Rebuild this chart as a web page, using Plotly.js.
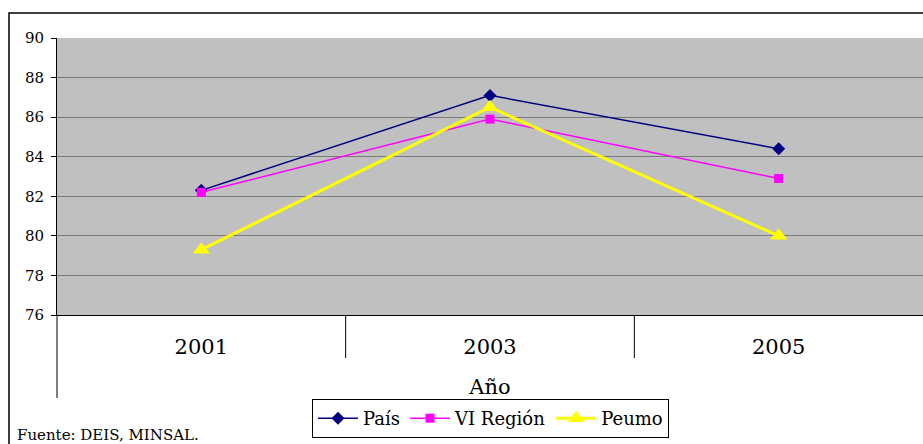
<!DOCTYPE html>
<html>
<head>
<meta charset="utf-8">
<script src="https://cdn.plot.ly/plotly-3.0.1.min.js"></script>
<style>html,body{margin:0;padding:0;background:#fff;}#chart{width:923px;height:444px;}</style>
</head>
<body>
<div id="chart"></div>
<script>
const years = ['2001', '2003', '2005'];
const pais = [82.3, 87.1, 84.4];
const viRegion = [82.2, 85.9, 82.9];
const peumo = [79.3, 86.5, 80.0];
const seriesNames = ['País', 'VI Región', 'Peumo'];
const yTicks = [76, 78, 80, 82, 84, 86, 88, 90];
const xTitle = 'Año';
const sourceNote = 'Fuente: DEIS, MINSAL.';

const serif = 'DejaVu Serif';

const traces = [
  {x: years, y: pais, name: seriesNames[0], type: 'scatter', mode: 'lines+markers',
   line: {color: '#000080', width: 1.5}, marker: {symbol: 'diamond', size: 10, color: '#000080'}},
  {x: years, y: viRegion, name: seriesNames[1], type: 'scatter', mode: 'lines+markers',
   line: {color: '#FF00FF', width: 1.5}, marker: {symbol: 'square', size: 9, color: '#FF00FF'}},
  {x: years, y: peumo, name: seriesNames[2], type: 'scatter', mode: 'lines+markers',
   line: {color: '#FFFF00', width: 3}, marker: {symbol: 'triangle-up', size: 15, color: '#FFFF00'}}
];

const H = 277; // plot height px
const W = 866; // plot width px
const py = p => (315 - p) / H;
const px = p => (p - 57) / W;

const layout = {
  width: 923, height: 444,
  margin: {l: 57, r: 0, t: 38, b: 129, pad: 0},
  paper_bgcolor: '#ffffff',
  plot_bgcolor: '#C0C0C0',
  showlegend: true,
  font: {family: serif, color: '#000'},
  xaxis: {
    type: 'category', range: [-0.5, 2.5], fixedrange: true,
    showline: true, linecolor: '#000', linewidth: 1, mirror: false,
    showgrid: false, zeroline: false, ticks: '',
    tickfont: {family: serif, size: 21, color: '#000'},
    ticklabelstandoff: 13,
    title: {text: xTitle, font: {family: serif, size: 21, color: '#000'}, standoff: 21},
    automargin: false
  },
  yaxis: {
    range: [76, 90], tickvals: yTicks, fixedrange: true,
    showline: true, linecolor: '#000', linewidth: 1,
    showgrid: true, gridcolor: '#7a7a7a', gridwidth: 1, zeroline: false,
    ticks: 'outside', ticklen: 5, tickcolor: '#000',
    tickfont: {family: serif, size: 15, color: '#000'},
    ticklabelstandoff: 4,
    automargin: false
  },
  legend: {
    orientation: 'h', x: px(312), xanchor: 'left', y: py(399), yanchor: 'top',
    bgcolor: '#ffffff', bordercolor: '#000', borderwidth: 1,
    font: {family: serif, size: 18, color: '#000'},
    itemwidth: 40, traceorder: 'normal'
  },
  shapes: [
    {type: 'rect', xref: 'paper', yref: 'paper', x0: px(9), x1: 1.2, y0: -1, y1: py(13),
     line: {color: '#000', width: 1.5}, fillcolor: 'rgba(0,0,0,0)', layer: 'below'},
    {type: 'line', xref: 'paper', yref: 'paper', x0: 0, x1: 0, y0: 0, y1: py(398),
     line: {color: '#000', width: 1}},
    {type: 'line', xref: 'x', yref: 'paper', x0: 0.5, x1: 0.5, y0: 0, y1: py(358),
     line: {color: '#000', width: 1}},
    {type: 'line', xref: 'x', yref: 'paper', x0: 1.5, x1: 1.5, y0: 0, y1: py(358),
     line: {color: '#000', width: 1}}
  ],
  annotations: [
    {text: sourceNote, xref: 'paper', yref: 'paper', x: px(15), y: py(446),
     xanchor: 'left', yanchor: 'bottom', showarrow: false,
     font: {family: serif, size: 15, color: '#000'}}
  ]
};

Plotly.newPlot('chart', traces, layout, {displayModeBar: false, staticPlot: true});
</script>
</body>
</html>
